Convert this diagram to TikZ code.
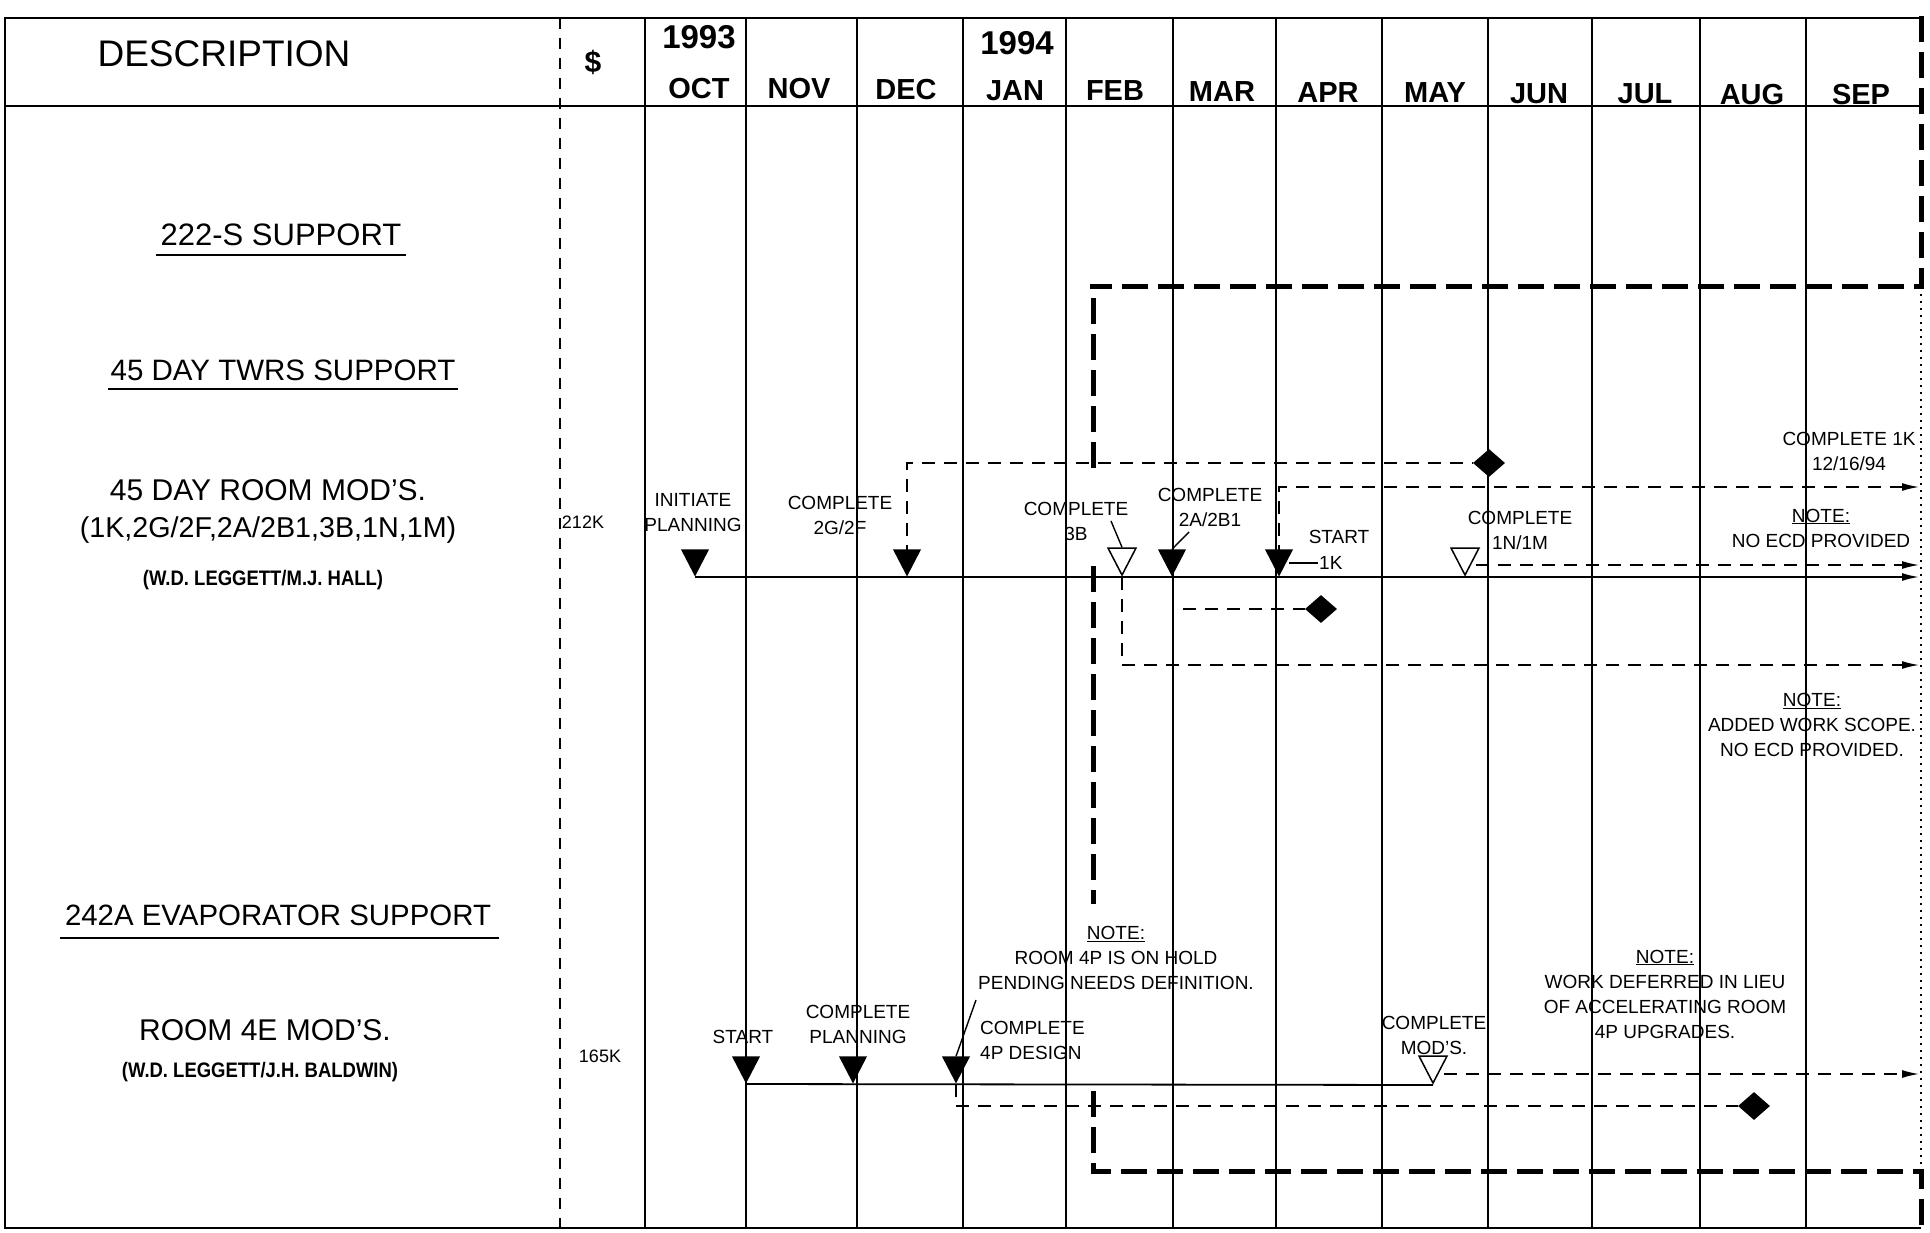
\documentclass[tikz,border=0pt]{standalone}
\usepackage{fontspec}
\setmainfont{Liberation Sans}
\newfontfamily\cond{Liberation Sans}[FakeStretch=0.88]
\usetikzlibrary{shapes.geometric,arrows.meta,calc}
\begin{document}
\begin{tikzpicture}[x=1pt,y=-1pt,
  gridl/.style={line width=1.8pt,black},
  sepd/.style={line width=1.8pt,dash pattern=on 11pt off 9pt},
  tdsh/.style={line width=5pt,dash pattern=on 26pt off 10pt},
  dotb/.style={line width=1.6pt,dash pattern=on 2pt off 5pt},
  dsh/.style={line width=1.5pt,dash pattern=on 13pt off 9pt},
  tl/.style={line width=1.8pt},
  ldr/.style={line width=1.4pt},
  arr/.style={-{Latex[length=17pt,width=8pt]}},
  ftri/.style={isosceles triangle,shape border rotate=-90,isosceles triangle stretches,
    minimum width=28pt,minimum height=27pt,inner sep=0pt,fill=black,anchor=apex},
  htri/.style={ftri,fill=white,draw=black,line width=1.5pt},
  dia/.style={diamond,fill=black,minimum width=32pt,minimum height=28pt,inner sep=0pt},
  lbl/.style={font=\fontsize{19}{25}\selectfont,align=center,inner sep=0pt},
  lcol/.style={font=\fontsize{30}{36}\selectfont,inner sep=0pt},
  who/.style={font=\cond\bfseries\fontsize{21}{24}\selectfont,inner sep=0pt},
  mon/.style={font=\bfseries\fontsize{29}{34}\selectfont,inner sep=0pt},
  yr/.style={font=\bfseries\fontsize{33}{38}\selectfont,inner sep=0pt},
  money/.style={font=\fontsize{18}{22}\selectfont,inner sep=0pt}
]
\useasboundingbox (0,0) rectangle (1930,1233);
\fill[white] (0,0) rectangle (1930,1233);

% frame and grid
\draw[gridl] (1921,18) -- (5,18) -- (5,1228) -- (1921,1228);
\draw[gridl] (5,106) -- (1921,106);
\draw[sepd] (560,18) -- (560,1228);
\foreach \x in {645,746,857,963,1066,1173,1276,1382,1488,1592,1700,1806}
  \draw[gridl] (\x,18) -- (\x,1228);

% thick dashed boundary
\draw[tdsh] (1921,16) -- (1921,287) -- (1090,287) -- (1093,287) -- (1093,476);
\draw[tdsh] (1093,566) -- (1093,904);
\draw[tdsh] (1093,1091) -- (1093,1171) -- (1921,1171) -- (1921,1230);
\draw[dotb] (1921,287) -- (1921,1171);

% header
\node[font=\fontsize{37}{44}\selectfont,inner sep=0pt] (desc) at (224,54) {DESCRIPTION};
\node[font=\bfseries\fontsize{30}{36}\selectfont,inner sep=0pt] (dol) at (593,62) {\$};
\node[yr] (y93) at (699,37) {1993};
\node[yr] (y94) at (1017,43) {1994};
\node[mon] (mOCT) at (699,89) {OCT};
\node[mon] (mNOV) at (799,89) {NOV};
\node[mon] (mDEC) at (906,90) {DEC};
\node[mon] (mJAN) at (1015,91) {JAN};
\node[mon] (mFEB) at (1115,91) {FEB};
\node[mon] (mMAR) at (1222,92) {MAR};
\node[mon] (mAPR) at (1328,93) {APR};
\node[mon] (mMAY) at (1435,93) {MAY};
\node[mon] (mJUN) at (1539,94) {JUN};
\node[mon] (mJUL) at (1645,94) {JUL};
\node[mon] (mAUG) at (1752,95) {AUG};
\node[mon] (mSEP) at (1861,95) {SEP};

% description column
\node[lcol,font=\fontsize{31}{36}\selectfont] (n222) at (281,235) {222-S SUPPORT};
\draw[tl] ($(n222.base west)+(-4,9)$) -- ($(n222.base east)+(4,9)$);
\node[lcol,font=\fontsize{29.5}{36}\selectfont] (nTW) at (283,370) {45 DAY TWRS SUPPORT};
\draw[tl] ($(nTW.base west)+(-2,9)$) -- ($(nTW.base east)+(2,9)$);
\node[lcol] (nRM) at (268,490) {45 DAY ROOM MOD'S.};
\node[lcol,font=\fontsize{28.7}{36}\selectfont] (nLST) at (268,530) {(1K,2G/2F,2A/2B1,3B,1N,1M)};
\node[who] (nWH1) at (263,580) {(W.D. LEGGETT/M.J. HALL)};
\node[money] (m212) at (583,522) {212K};
\node[lcol,font=\fontsize{29.4}{36}\selectfont] (n242) at (278,915) {242A EVAPORATOR SUPPORT};
\draw[tl] ($(n242.base west)+(-5,13)$) -- ($(n242.base east)+(8,13)$);
\node[lcol] (n4E) at (265,1030) {ROOM 4E MOD'S.};
\node[who] (nWH2) at (260,1072) {(W.D. LEGGETT/J.H. BALDWIN)};
\node[money] (m165) at (600,1056) {165K};

% timeline 1 milestones
\node[ftri] (tIN) at (695,577) {};
\node[ftri] (t2G) at (907,577) {};
\node[htri] (t3B) at (1122,577) {};
\node[ftri] (t2A) at (1172,577) {};
\node[ftri] (t1K) at (1279,577) {};
\node[htri] (t1N) at (1465,577) {};
\node[dia] (d1) at (1489,463) {};
\node[dia] (d2) at (1321,609) {};
\coordinate (e1) at (1919,577);
\coordinate (e1K) at (1919,487);
\coordinate (e1N) at (1919,565);
\coordinate (e3B) at (1919,665);
\coordinate (s2A) at (1183,609);

\draw[tl,arr] (tIN.apex) -- (e1);
\draw[dsh] (t2G.center) -- (t2G.center |- d1.center) -- (d1.west);
\draw[dsh,arr] (t3B.apex) -- (t3B.apex |- e3B) -- (e3B);
\draw[dsh] (s2A) -- (d2.west);
\draw[dsh,arr] (t1K.center) -- (t1K.center |- e1K) -- (e1K);
\draw[dsh,arr] (t1N.east |- e1N) -- (e1N);

% timeline 2 milestones
\node[ftri] (tST) at (746,1084) {};
\node[ftri] (tCP) at (853,1084) {};
\node[ftri] (t4P) at (956,1084) {};
\node[htri] (tMD) at (1433,1085) {};
\node[dia] (d3) at (1754,1106) {};
\coordinate (eMD) at (1919,1074);

\draw[tl] (tST.apex) -- (tMD.apex);
\draw[dsh,arr] (tMD.east |- eMD) -- (eMD);
\draw[dsh] (t4P.apex) -- (t4P.apex |- d3.center) -- (d3.west);

% labels timeline 1
\node[lbl] (lIN) at (693,513) {INITIATE\\PLANNING};
\node[lbl] (l2G) at (840,515) {COMPLETE\\2G/2F};
\node[lbl] (l3B) at (1076,521) {COMPLETE\\3B};
\node[lbl] (l2A) at (1210,507) {COMPLETE\\2A/2B1};
\node[lbl] (lST1) at (1339,537) {START};
\node[lbl,inner sep=1pt,anchor=west] (l1K) at (1318,563) {1K};
\node[lbl] (l1N) at (1520,530) {COMPLETE\\1N/1M};
\node[lbl] (lC1K) at (1849,451) {COMPLETE 1K\\12/16/94};
\node[lbl] (lN1) at (1821,528) {\underline{NOTE:}\\NO ECD PROVIDED};
\node[lbl] (lN2) at (1812,725) {\underline{NOTE:}\\ADDED WORK SCOPE.\\NO ECD PROVIDED.};
\coordinate (k3B) at (1111,521);
\coordinate (k2A) at (1189,532);
\draw[ldr] (k3B) -- (t3B.north);
\draw[ldr] (k2A) -- (t2A.north);
\draw[ldr] (l1K.west) -- (l1K.west -| t1K.east);

% labels timeline 2
\node[lbl] (lN3) at (1116,958) {\underline{NOTE:}\\ROOM 4P IS ON HOLD\\PENDING NEEDS DEFINITION.};
\node[lbl] (lN4) at (1665,994) {\underline{NOTE:}\\WORK DEFERRED IN LIEU\\OF ACCELERATING ROOM\\4P UPGRADES.};
\node[lbl] (lST2) at (743,1037) {START};
\node[lbl] (lCP) at (858,1024) {COMPLETE\\PLANNING};
\node[lbl,align=left,anchor=west] (l4P) at (980,1040) {COMPLETE\\4P DESIGN};
\node[lbl] (lMD) at (1434,1035) {COMPLETE\\MOD'S.};
\coordinate (k4P) at (976,1000);
\draw[ldr] (k4P) -- (t4P.north);
\end{tikzpicture}
\end{document}
